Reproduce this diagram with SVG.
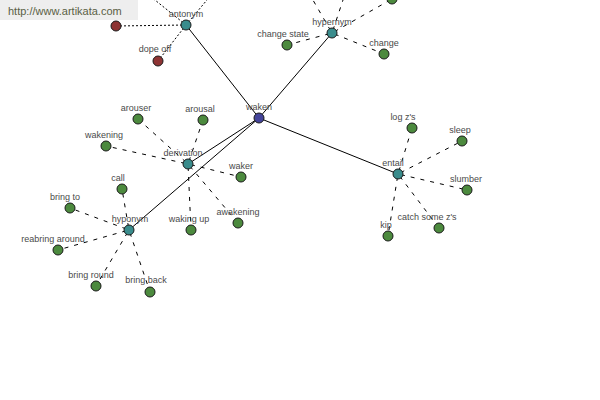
<svg xmlns="http://www.w3.org/2000/svg" width="600" height="400" viewBox="0 0 600 400">
<style>
  .solid{stroke:#000;stroke-width:1;fill:none}
  .dash{stroke:#000;stroke-width:1;fill:none;stroke-dasharray:4,6;stroke-dashoffset:-3}
  .dot{stroke:#000;stroke-width:1;fill:none;stroke-dasharray:2,2}
  .n{stroke:#1a1a1a;stroke-width:1}
  .green{fill:#4c8a3e}
  .red{fill:#8e3434}
  .teal{fill:#3a8c8c}
  .root{fill:#44449a}
  .lbl{font-family:"Liberation Sans",Arial,sans-serif;font-size:9px;fill:#4a4a4a;text-anchor:middle}
  .wm{font-family:"Liberation Sans",Arial,sans-serif;font-size:11px;fill:#5a6045}
</style>
<rect width="600" height="400" fill="#fff"/>
<g id="connectors">
  <line class="solid" x1="259" y1="118" x2="186" y2="25"/>
  <line class="solid" x1="259" y1="118" x2="332" y2="33"/>
  <line class="solid" x1="259" y1="118" x2="188" y2="164"/>
  <line class="solid" x1="259" y1="118" x2="129" y2="230"/>
  <line class="solid" x1="259" y1="118" x2="398" y2="174"/>
  <line class="dot" x1="186" y1="25" x2="116" y2="26"/>
  <line class="dot" x1="186" y1="25" x2="158" y2="61"/>
  <line class="dot" x1="186" y1="25" x2="140" y2="-12"/>
  <line class="dot" x1="186" y1="25" x2="217" y2="-12"/>
  <line class="dash" x1="332" y1="33" x2="306" y2="-12"/>
  <line class="dash" x1="332" y1="33" x2="347" y2="-12"/>
  <line class="dash" x1="332" y1="33" x2="392" y2="-1"/>
  <line class="dash" x1="332" y1="33" x2="287" y2="45"/>
  <line class="dash" x1="332" y1="33" x2="384" y2="54"/>
  <line class="dash" x1="188" y1="164" x2="138" y2="119"/>
  <line class="dash" x1="188" y1="164" x2="203" y2="120"/>
  <line class="dash" x1="188" y1="164" x2="106" y2="146"/>
  <line class="dash" x1="188" y1="164" x2="241" y2="177"/>
  <line class="dash" x1="188" y1="164" x2="191" y2="230"/>
  <line class="dash" x1="188" y1="164" x2="238" y2="223"/>
  <line class="dash" x1="129" y1="230" x2="122" y2="189"/>
  <line class="dash" x1="129" y1="230" x2="70" y2="208"/>
  <line class="dash" x1="129" y1="230" x2="58" y2="250"/>
  <line class="dash" x1="129" y1="230" x2="96" y2="286"/>
  <line class="dash" x1="129" y1="230" x2="150" y2="292"/>
  <line class="dash" x1="398" y1="174" x2="412" y2="128"/>
  <line class="dash" x1="398" y1="174" x2="462" y2="141"/>
  <line class="dash" x1="398" y1="174" x2="467" y2="190"/>
  <line class="dash" x1="398" y1="174" x2="439" y2="228"/>
  <line class="dash" x1="398" y1="174" x2="388" y2="236"/>
</g>
<g id="n-offscreen"><circle class="n green" cx="392" cy="-1" r="5"/></g>
<g id="n-antonym-red"><circle class="n red" cx="116" cy="26" r="5"/></g>
<g id="n-dope-off"><circle class="n red" cx="158" cy="61" r="5"/><text class="lbl" x="155" y="52">dope off</text></g>
<g id="n-antonym"><circle class="n teal" cx="186" cy="25" r="5"/><text class="lbl" x="186" y="17">antonym</text></g>
<g id="n-hypernym"><circle class="n teal" cx="332" cy="33" r="5"/><text class="lbl" x="332" y="25">hypernym</text></g>
<g id="n-change-state"><circle class="n green" cx="287" cy="45" r="5"/><text class="lbl" x="283" y="37">change state</text></g>
<g id="n-change"><circle class="n green" cx="384" cy="54" r="5"/><text class="lbl" x="384" y="46">change</text></g>
<g id="n-waken"><circle class="n root" cx="259" cy="118" r="5"/><text class="lbl" x="259" y="110">waken</text></g>
<g id="n-derivation"><circle class="n teal" cx="188" cy="164" r="5"/><text class="lbl" x="183" y="156">derivation</text></g>
<g id="n-arouser"><circle class="n green" cx="138" cy="119" r="5"/><text class="lbl" x="136" y="111">arouser</text></g>
<g id="n-arousal"><circle class="n green" cx="203" cy="120" r="5"/><text class="lbl" x="200" y="112">arousal</text></g>
<g id="n-wakening"><circle class="n green" cx="106" cy="146" r="5"/><text class="lbl" x="104" y="138">wakening</text></g>
<g id="n-waker"><circle class="n green" cx="241" cy="177" r="5"/><text class="lbl" x="241" y="169">waker</text></g>
<g id="n-waking-up"><circle class="n green" cx="191" cy="230" r="5"/><text class="lbl" x="189" y="222">waking up</text></g>
<g id="n-awakening"><circle class="n green" cx="238" cy="223" r="5"/><text class="lbl" x="238" y="215">awakening</text></g>
<g id="n-hyponym"><circle class="n teal" cx="129" cy="230" r="5"/><text class="lbl" x="130" y="222">hyponym</text></g>
<g id="n-call"><circle class="n green" cx="122" cy="189" r="5"/><text class="lbl" x="118" y="181">call</text></g>
<g id="n-bring-to"><circle class="n green" cx="70" cy="208" r="5"/><text class="lbl" x="65" y="200">bring to</text></g>
<g id="n-reabring-around"><circle class="n green" cx="58" cy="250" r="5"/><text class="lbl" x="53" y="242">reabring around</text></g>
<g id="n-bring-round"><circle class="n green" cx="96" cy="286" r="5"/><text class="lbl" x="91" y="278">bring round</text></g>
<g id="n-bring-back"><circle class="n green" cx="150" cy="292" r="5"/><text class="lbl" x="146" y="283">bring back</text></g>
<g id="n-entail"><circle class="n teal" cx="398" cy="174" r="5"/><text class="lbl" x="393" y="166">entail</text></g>
<g id="n-log-zs"><circle class="n green" cx="412" cy="128" r="5"/><text class="lbl" x="403" y="120">log z's</text></g>
<g id="n-sleep"><circle class="n green" cx="462" cy="141" r="5"/><text class="lbl" x="460" y="133">sleep</text></g>
<g id="n-slumber"><circle class="n green" cx="467" cy="190" r="5"/><text class="lbl" x="466" y="182">slumber</text></g>
<g id="n-catch-some-zs"><circle class="n green" cx="439" cy="228" r="5"/><text class="lbl" x="427" y="220">catch some z's</text></g>
<g id="n-kip"><circle class="n green" cx="388" cy="236" r="5"/><text class="lbl" x="386" y="228">kip</text></g>
<g id="watermark">
  <rect x="0" y="0" width="138" height="20" fill="#eeeeee"/>
  <text class="wm" x="8" y="15">http://www.artikata.com</text>
</g>
</svg>
